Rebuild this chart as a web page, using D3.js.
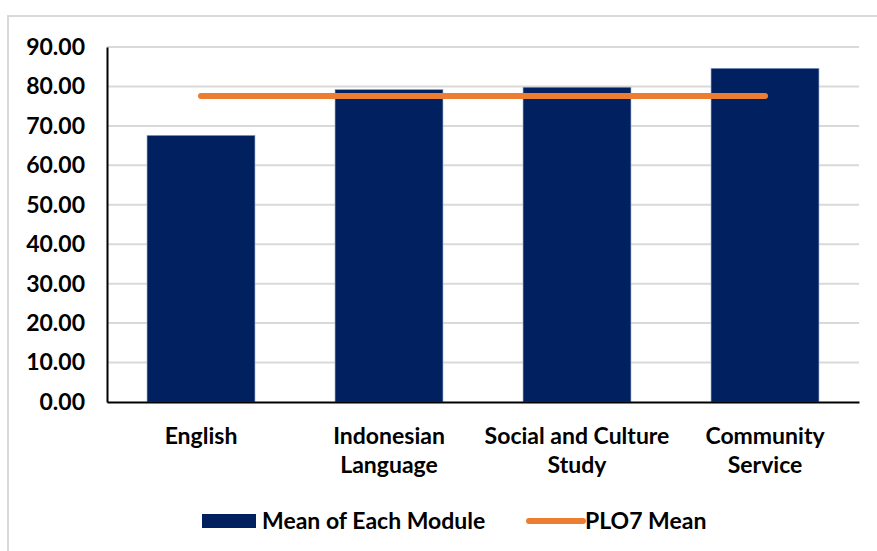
<!DOCTYPE html>
<html lang="en">
<head>
<meta charset="UTF-8">
<title>PLO7 Mean by Module</title>
<script src="https://cdn.jsdelivr.net/npm/d3@7"></script>
<style>
  html, body { margin: 0; padding: 0; background: #fff; }
  svg { display: block; font-family: Lato, "Liberation Sans", Arial, sans-serif; }
</style>
</head>
<body>
<svg id="chart" width="877" height="551"></svg>
<script>
(function () {
  'use strict';

  // data
  const modules = [["English"], ["Indonesian", "Language"], ["Social and Culture", "Study"], ["Community", "Service"]];
  const moduleMeans = [67.6, 79.2, 79.8, 84.6];
  const plo7Mean = 77.6;
  const yTicks = [0, 10, 20, 30, 40, 50, 60, 70, 80, 90];
  const legendLabels = ["Mean of Each Module", "PLO7 Mean"];

  const navy = "#002060";
  const orange = "#ED7D31";
  const grid = "#d9d9d9";
  const fontSize = "23px";

  const svg = d3.select("#chart");
  const margin = { top: 47, right: 18, bottom: 149, left: 107 };
  const W = +svg.attr("width"), H = +svg.attr("height");
  const innerW = W - margin.left - margin.right;
  const innerH = H - margin.top - margin.bottom;

  // chart frame (light border)
  svg.append("rect")
      .attr("x", 8).attr("y", 16)
      .attr("width", W + 10).attr("height", H + 10)
      .attr("fill", "#fff")
      .attr("stroke", grid).attr("stroke-width", 2);

  const g = svg.append("g").attr("transform", `translate(${margin.left},${margin.top})`);

  const keys = modules.map(d => d.join(" "));
  const x = d3.scaleBand().domain(keys).range([0, innerW]).paddingInner(0.426).paddingOuter(0.213);
  const y = d3.scaleLinear().domain([0, 90]).range([innerH, 0]);

  // gridlines
  g.append("g")
      .selectAll("line")
      .data(yTicks.filter(t => t > 0))
      .join("line")
      .attr("x1", 0).attr("x2", innerW)
      .attr("y1", d => y(d)).attr("y2", d => y(d))
      .attr("stroke", grid).attr("stroke-width", 2);

  // bars
  g.append("g")
      .selectAll("rect")
      .data(moduleMeans)
      .join("rect")
      .attr("x", (d, i) => x(keys[i]))
      .attr("y", d => y(d))
      .attr("width", x.bandwidth())
      .attr("height", d => innerH - y(d))
      .attr("fill", navy)
      .attr("stroke", "#8ea2c8").attr("stroke-width", 0.6);

  // PLO7 mean line from first to last category centre
  const lineData = keys.map(k => ({ k, v: plo7Mean }));
  g.append("path")
      .datum(lineData)
      .attr("fill", "none")
      .attr("stroke", orange)
      .attr("stroke-width", 6)
      .attr("stroke-linecap", "round")
      .attr("d", d3.line().x(d => x(d.k) + x.bandwidth() / 2).y(d => y(d.v)));

  // y axis
  const yAxis = g.append("g").call(d3.axisLeft(y).tickValues(yTicks).tickSize(0).tickPadding(22).tickFormat(d3.format(".2f")));
  yAxis.select(".domain").attr("stroke", "#000").attr("stroke-width", 2);
  yAxis.selectAll("text")
      .attr("fill", "#000")
      .style("font-size", fontSize)
      .style("font-weight", "bold")
      .style("font-family", "Lato, Liberation Sans, Arial, sans-serif");

  // x axis
  const xAxis = g.append("g").attr("transform", `translate(0,${innerH})`)
      .call(d3.axisBottom(x).tickSize(0).tickFormat(""));
  xAxis.select(".domain").attr("stroke", "#000").attr("stroke-width", 2);

  const labels = g.append("g").selectAll("text")
      .data(modules)
      .join("text")
      .attr("text-anchor", "middle")
      .attr("transform", (d, i) => `translate(${x(keys[i]) + x.bandwidth() / 2},${innerH + 42})`)
      .style("font-size", fontSize)
      .style("font-weight", "bold")
      .attr("fill", "#000");
  labels.selectAll("tspan")
      .data(d => d)
      .join("tspan")
      .attr("x", 0)
      .attr("dy", (d, i) => i === 0 ? 0 : 29)
      .text(d => d);

  // legend
  const legend = svg.append("g").attr("transform", "translate(202,521)")
      .style("font-size", fontSize).style("font-weight", "bold");
  legend.append("rect").attr("x", 0).attr("y", -7).attr("width", 54).attr("height", 14).attr("fill", navy);
  legend.append("text").attr("x", 60).attr("dy", "0.35em").text(legendLabels[0]);
  legend.append("line").attr("x1", 327).attr("x2", 381).attr("y1", 0).attr("y2", 0)
      .attr("stroke", orange).attr("stroke-width", 6).attr("stroke-linecap", "round");
  legend.append("text").attr("x", 383).attr("dy", "0.35em").text(legendLabels[1]);
}());
</script>
</body>
</html>
